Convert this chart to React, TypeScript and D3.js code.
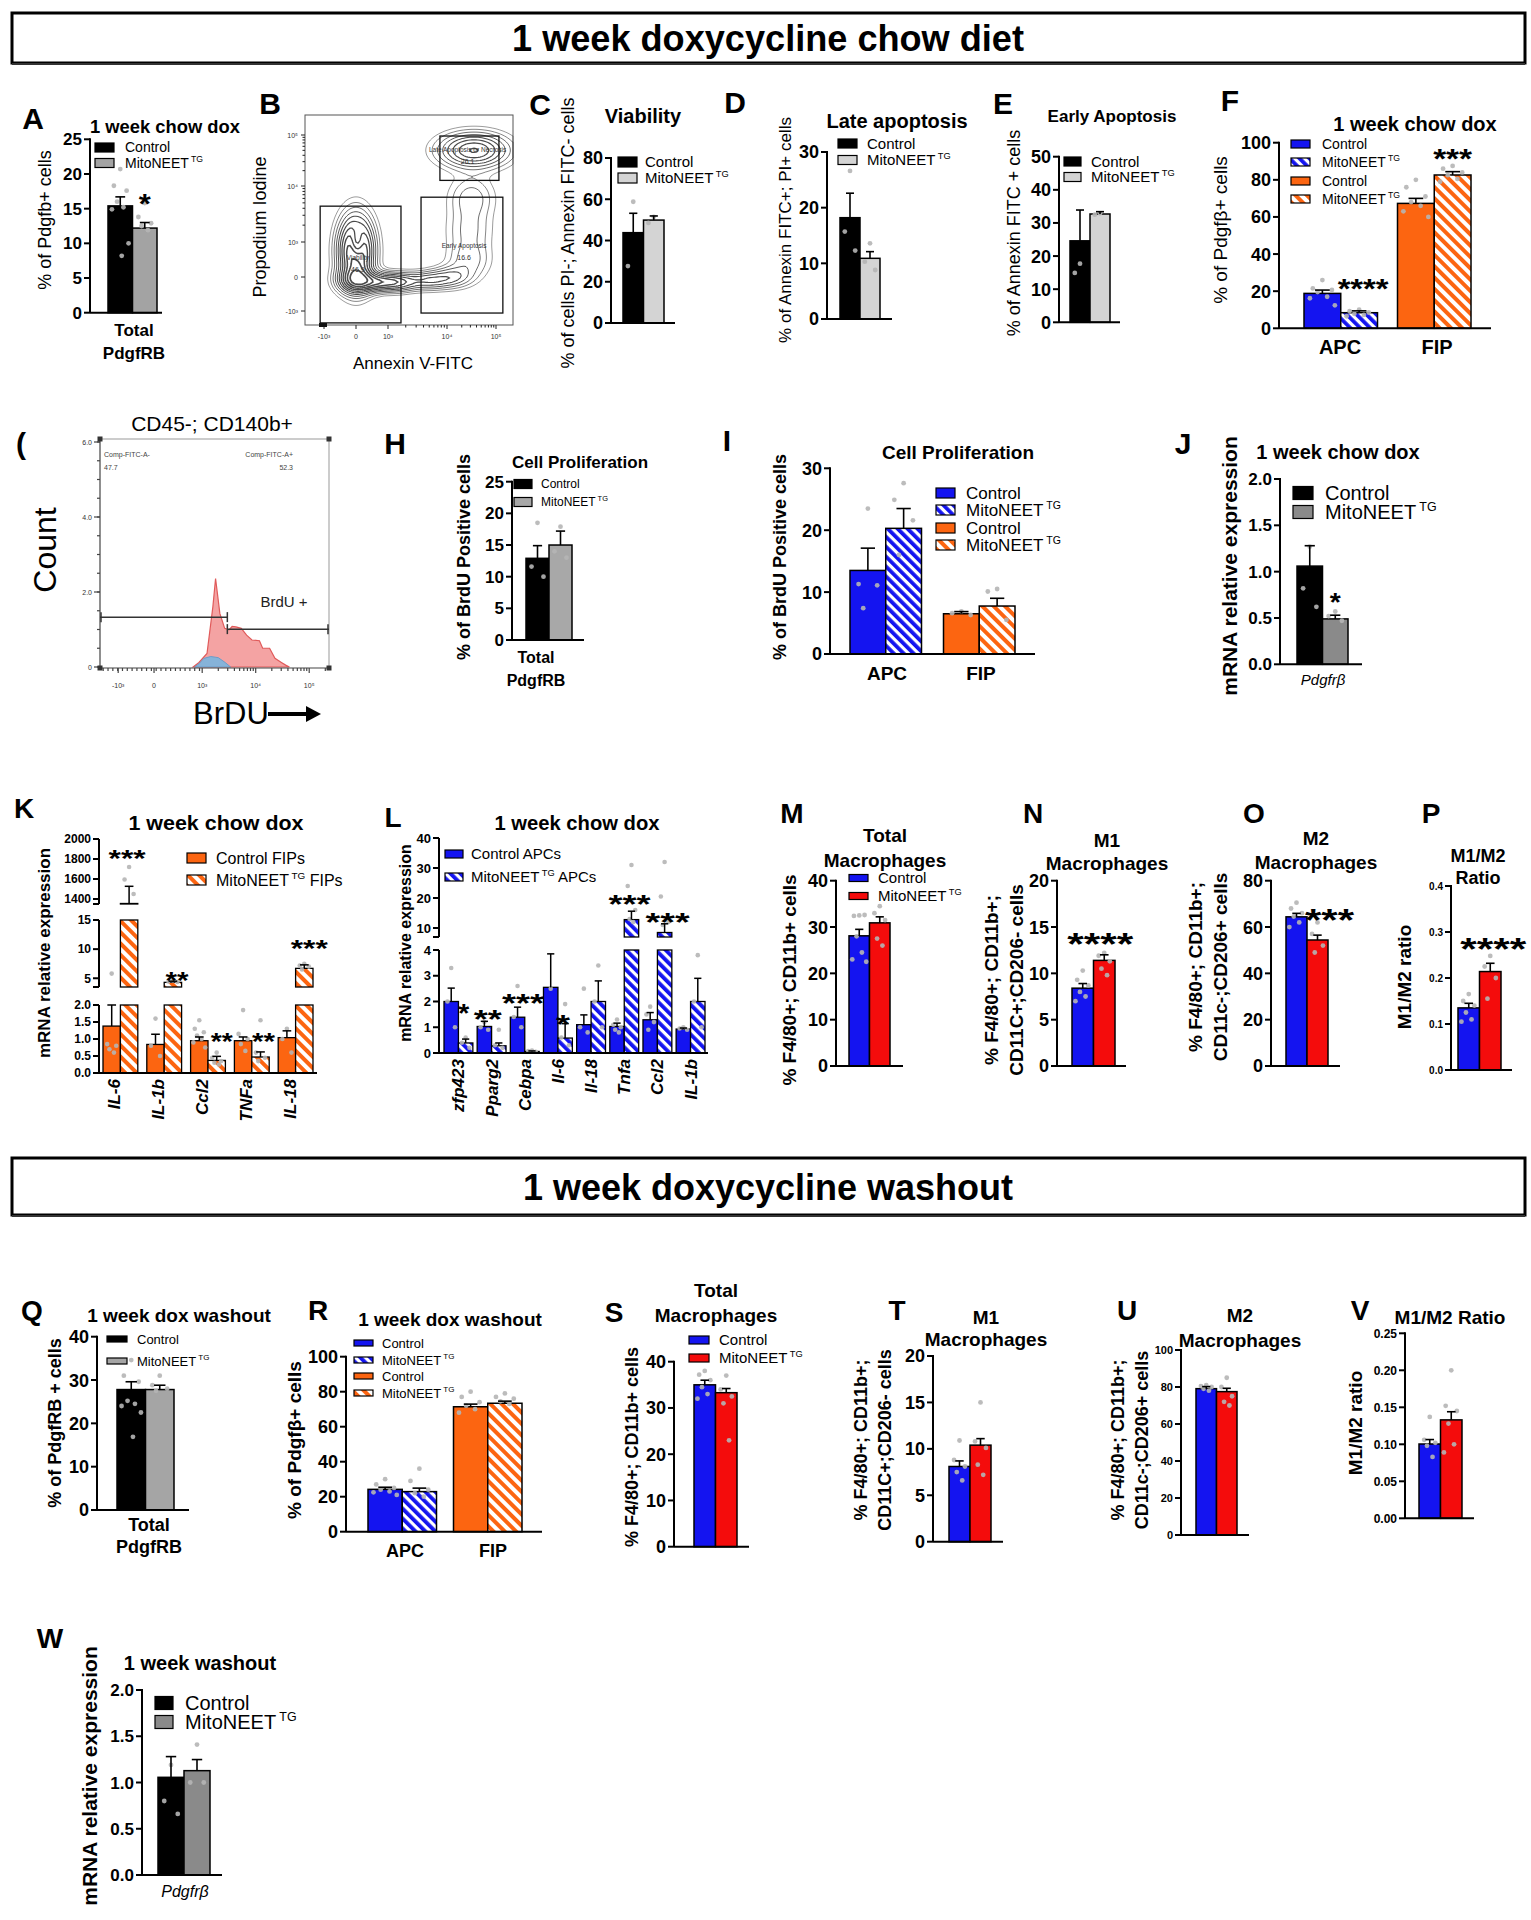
import React from "react";
import * as d3 from "d3";

const FONT = "'Liberation Sans', Arial, Helvetica, sans-serif";
const BLUE = "#1414f0";
const RED = "#f40c0c";
const ORANGE = "#fc6511";
const DOT = "#b5b5b5";
const HB = "url(#hatchBlue)";
const HO = "url(#hatchOrange)";

// ================= DATA =================
const single = ["Total"];
const cellTypes = ["APC", "FIP"];

// A
const A_mean = [15.4, 12.2];
const A_sem = [1.3, 0.8];
const A_dots = [[20.7, 18.3, 17.6, 16.0, 15.2, 14.9, 10.0, 8.2], [15.8, 13.8, 12.9, 12.5, 11.9]];
const A_ticks = [0, 5, 10, 15, 20, 25];
// C
const C_mean = [43.8, 49.9];
const C_sem = [9.4, 2.0];
const C_dots = [[58.8, 27.6], [51.5, 48.5]];
const C_ticks = [0, 20, 40, 60, 80];
// D
const D_mean = [18.2, 10.9];
const D_sem = [4.4, 1.2];
const D_dots = [[26.6, 15.7, 12.3], [13.6, 10.3, 8.8]];
const D_ticks = [0, 10, 20, 30];
// E
const E_mean = [24.6, 32.7];
const E_sem = [9.3, 0.7];
const E_dots = [[17.7, 14.9], [32.9, 32.5]];
const E_ticks = [0, 10, 20, 30, 40, 50];
// F
const F_mean = [[18.8, 8.4], [67.3, 82.6]];
const F_sem = [[1.8, 1.0], [2.7, 1.8]];
const F_dots = [
  [[26, 21.5, 20.7, 19.5, 17, 16.2, 12.4], [10, 9.2, 8.5, 7.8, 7.2, 6.5]],
  [[80, 76, 71, 68, 66, 63, 60], [87.5, 86, 84, 82.5, 80.5, 79]],
];
const F_ticks = [0, 20, 40, 60, 80, 100];
// H
const H_mean = [12.9, 15.0];
const H_sem = [2.0, 2.2];
const H_dots = [[18.5, 11.6, 10.0], [17.9, 14.0, 13.0]];
const H_ticks = [0, 5, 10, 15, 20, 25];
// I
const I_mean = [[13.5, 20.3], [6.5, 7.75]];
const I_sem = [[3.6, 3.2], [0.35, 1.25]];
const I_dots = [
  [[23.5, 11.3, 11.1, 7.4], [27.6, 24.9, 21.6, 16]],
  [[6.9, 6.6, 6.3], [10.5, 10.1, 5.5]],
];
const I_ticks = [0, 10, 20, 30];
// J
const J_mean = [1.06, 0.49];
const J_sem = [0.22, 0.04];
const J_dots = [[1.27, 0.82, 0.62], [0.57, 0.52, 0.47]];
const J_ticks = [0, 0.5, 1, 1.5, 2];
// K
const K_genes = ["IL-6", "IL-1b", "Ccl2", "TNFa", "IL-18"];
const K_ctrl = [1.38, 0.84, 0.95, 0.95, 1.04];
const K_ctrlSem = [0.62, 0.3, 0.11, 0.11, 0.2];
const K_mito = [1355, 4.3, 0.37, 0.47, 6.7];
const K_mitoSem = [172, 0.2, 0.12, 0.15, 0.6];
const K_ctrlDots = [[5.8, 0.85, 0.8, 0.7, 0.6], [1.6, 0.8, 0.5], [1.55, 1.3, 1.2, 1.1, 1.0, 0.9, 0.75], [1.85, 1.15, 1.0, 0.85, 0.65], [1.3, 1.0, 0.6]];
const K_mitoDots = [[1720, 1595, 1450], [4.6, 4.45, 4.35], [0.6, 0.45, 0.35, 0.3, 0.25], [1.55, 0.6, 0.45, 0.35], [7.5, 7.2, 7.0, 6.5]];
// L
const L_genes = ["zfp423", "Pparg2", "Cebpa", "Il-6", "Il-18", "Tnfa", "Ccl2", "IL-1b"];
const L_ctrl = [2.0, 1.03, 1.39, 2.55, 1.1, 1.03, 1.29, 0.93];
const L_ctrlSem = [0.52, 0.2, 0.39, 1.3, 0.38, 0.13, 0.28, 0.04];
const L_mito = [0.39, 0.28, 0.06, 0.58, 2.0, 12.8, 8.5, 2.0];
const L_mitoSem = [0.15, 0.11, 0.02, 0.56, 0.8, 2.8, 2.9, 0.9];
const L_ctrlDots = [[3.3, 2.0, 1.0], [1.2, 1.0, 0.9], [2.6, 1.4, 1.0], [2.5], [2.5, 1.0, 0.8], [1.3, 1.1, 1.0, 0.9, 0.8], [1.8, 1.5, 1.2, 0.9], [1.0, 0.95, 0.9]];
const L_mitoDots = [[0.6, 0.4, 0.2], [0.9, 0.3, 0.2], [0.1, 0.08, 0.05], [1.9, 0.6, 0.3], [3.4, 2.0, 1.0], [31, 24, 16, 13, 12], [32, 20.5, 12, 11], [3.8, 2.0, 1.0]];
// M..P
const M_mean = [28.1, 30.9];
const M_sem = [1.4, 1.3];
const M_dots = [[32.5, 32.4, 32.6, 28, 24.5, 23, 22.5], [34.5, 33, 31.5, 27.5, 26]];
const M_ticks = [0, 10, 20, 30, 40];
const N_mean = [8.4, 11.4];
const N_sem = [0.5, 0.6];
const N_dots = [[10.3, 9.3, 8.7, 8.0, 7.5, 7.0], [12.2, 11.9, 11.3, 10.5, 9.8]];
const N_ticks = [0, 5, 10, 15, 20];
const O_mean = [64.4, 54.4];
const O_sem = [1.5, 2.1];
const O_dots = [[70.5, 68, 66, 64.5, 62, 60], [62, 57, 52, 49]];
const O_ticks = [0, 20, 40, 60, 80];
const P_mean = [0.135, 0.214];
const P_sem = [0.01, 0.018];
const P_dots = [[0.165, 0.15, 0.14, 0.125, 0.11, 0.105], [0.248, 0.225, 0.2, 0.155]];
const P_ticks = [0, 0.1, 0.2, 0.3, 0.4];
// Q..W
const Q_mean = [27.8, 27.8];
const Q_sem = [1.8, 1.0];
const Q_dots = [[34.6, 31, 29.6, 25.2, 24.5, 24, 22.5, 16.9], [31, 28.8, 28, 27.5]];
const Q_ticks = [0, 10, 20, 30, 40];
const R_mean = [[24.2, 22.9], [71.4, 73.4]];
const R_sem = [[1.2, 2.0], [1.5, 1.2]];
const R_dots = [
  [[30, 27, 25, 24, 23, 22.5, 21], [36, 29, 24, 22, 20]],
  [[80, 77, 74, 72, 70, 68], [79, 77, 76, 74.5, 73]],
];
const R_ticks = [0, 20, 40, 60, 80, 100];
const S_mean = [35.0, 33.3];
const S_sem = [1.0, 0.9];
const S_dots = [[38, 37.2, 36, 34.5, 33, 32], [37, 34, 32.5, 31, 23]];
const S_ticks = [0, 10, 20, 30, 40];
const T_mean = [8.1, 10.4];
const T_sem = [0.6, 0.7];
const T_dots = [[10.9, 8.8, 8.1, 7.5, 6.6], [15, 10.8, 10.1, 8.3, 7.2]];
const T_ticks = [0, 5, 10, 15, 20];
const U_mean = [79.1, 77.5];
const U_sem = [1.1, 1.8];
const U_dots = [[81, 80.5, 80, 79, 78], [85, 80, 75, 72, 70]];
const U_ticks = [0, 20, 40, 60, 80, 100];
const V_mean = [0.1004, 0.133];
const V_sem = [0.006, 0.011];
const V_dots = [[0.137, 0.106, 0.102, 0.098, 0.083], [0.2, 0.152, 0.145, 0.128, 0.1, 0.089]];
const V_ticks = [0, 0.05, 0.1, 0.15, 0.2, 0.25];
const W_mean = [1.056, 1.128];
const W_sem = [0.224, 0.12];
const W_dots = [[1.19, 0.8, 0.66], [1.41, 1.0, 1.0]];
const W_ticks = [0, 0.5, 1, 1.5, 2];

// B: flow cytometry (decade units: -1=-10^3, 0=0, 1=10^3, 2=10^4, 3=10^5)
const B_dec = [-1, 0, 1, 2, 3];
const B_tickLbl = ["-10³", "0", "10³", "10⁴", "10⁵"];
const B_gates = [
  { name: "Viability", pct: "46.9", x: [-1.12, 1.22], y: [-1.35, 1.64], lx: 0.06, ly: 0.49 },
  { name: "Early Apoptosis", pct: "16.6", x: [1.56, 3.14], y: [-1.06, 1.8], lx: 2.35, ly: 0.82 },
  { name: "Late Apoptosis or Necrosis", pct: "26.1", x: [1.88, 3.06], y: [2.11, 2.98], lx: 2.42, ly: 2.67 },
];
const B_clusters = [
  { x: 0.0, y: 0.75, sx: 11, sy: 22, w: 1.0 },
  { x: 0.03, y: 0.95, sx: 5, sy: 11, w: -0.5 },
  { x: 0.0, y: -0.1, sx: 12, sy: 8, w: 0.55 },
  { x: 0.7, y: -0.15, sx: 13, sy: 6, w: 0.45 },
  { x: 1.2, y: -0.15, sx: 13, sy: 6, w: 0.38 },
  { x: 1.7, y: -0.1, sx: 13, sy: 6, w: 0.3 },
  { x: 2.1, y: 0.0, sx: 13, sy: 7, w: 0.25 },
  { x: 2.45, y: 0.45, sx: 14, sy: 12, w: 0.16 },
  { x: 2.45, y: 1.2, sx: 15, sy: 16, w: 0.15 },
  { x: 2.5, y: 1.8, sx: 15, sy: 14, w: 0.17 },
  { x: 2.55, y: 2.7, sx: 22, sy: 11, w: 0.55 },
];
const B_levels = [0.05, 0.09, 0.14, 0.2, 0.27, 0.35, 0.44, 0.54, 0.65, 0.77, 0.9];

// G: BrdU histogram (u = display decades)
const G_redU = [2.83, 2.94, 3.09, 3.2, 3.25, 3.33, 3.42, 3.5, 3.56, 3.63, 3.73, 3.83, 3.93, 4.07, 4.13, 4.26, 4.36, 4.48, 4.56, 4.63];
const G_redC = [0, 0.12, 0.36, 1.61, 2.36, 1.43, 1.03, 0.99, 1.08, 1.07, 1.03, 0.85, 0.72, 0.7, 0.5, 0.5, 0.23, 0.12, 0.05, 0];
const G_blueU = [2.86, 2.95, 3.03, 3.16, 3.3, 3.43, 3.53];
const G_blueC = [0, 0.1, 0.23, 0.28, 0.25, 0.12, 0];
const G_xTickU = [1.43, 2.1, 3, 4, 5];
const G_xTickLbl = ["-10³", "0", "10³", "10⁴", "10⁵"];
const G_yTicks = [0, 2, 4, 6];
const G_gateSplit = 3.47;
const G_gateC = [1.33, 1.01];

// ================= HELPERS =================
type TP = { x: number; y: number; fs: number; b?: boolean; i?: boolean; a?: "start" | "middle" | "end"; rot?: boolean; w?: number; fill?: string; children?: React.ReactNode };
function Txt({ x, y, fs, b, i, a = "start", rot, w, fill = "#000", children }: TP) {
  const common: any = { fontSize: fs, fontWeight: b ? 700 : 400, fontStyle: i ? "italic" : "normal", textAnchor: a, fill, fontFamily: FONT };
  if (w) { common.textLength = w; common.lengthAdjust = "spacingAndGlyphs"; }
  if (rot) return <text transform={`translate(${x},${y}) rotate(-90)`} x={0} y={0} dy="0.35em" {...common}>{children}</text>;
  return <text x={x} y={y} {...common}>{children}</text>;
}

type Item = { fill: string; label: string; sup?: string; after?: string };
function Lbl({ it, fs }: { it: Item; fs: number }) {
  return (
    <>
      {it.label}
      {it.sup ? <tspan fontSize={fs * 0.62} dy={-fs * 0.42}>{" " + it.sup}</tspan> : null}
      {it.sup && it.after ? <tspan dy={fs * 0.42}>{it.after}</tspan> : null}
    </>
  );
}
function Legend({ x, ys, sw, sh, fs, tx, items }: { x: number; ys: number[]; sw: number; sh: number; fs: number; tx: number; items: Item[] }) {
  return (
    <g>
      {items.map((it, k) => (
        <g key={k}>
          <rect x={x} y={ys[k] - sh / 2} width={sw} height={sh} fill={it.fill} stroke="#000" strokeWidth={1.2} />
          <Txt x={tx} y={ys[k] + fs * 0.35} fs={fs}><Lbl it={it} fs={fs} /></Txt>
        </g>
      ))}
    </g>
  );
}

const dotPattern = [0, -0.26, 0.26, -0.13, 0.13, -0.34, 0.34, 0.06, -0.06];

type Star = { g: number; s: number; text: string; v: number; fs: number; w: number; dx?: number };
type BarCfg = {
  axisX: number; axisEnd: number; y0: number; yTop: number; max: number;
  ticks: number[]; fmt: string; tickFs: number;
  groups: string[]; means: number[][]; sems: number[][]; dots: number[][][]; fills: string[][];
  bx0: number; bx1: number; gap?: number; dotR?: number; stars?: Star[];
};

function BarPanel({ c }: { c: BarCfg }) {
  const y = d3.scaleLinear().domain([0, c.max]).range([c.y0, c.yTop]);
  const n = c.groups.length;
  const gap = c.gap ?? 0;
  const step = (c.bx1 - c.bx0 + gap) / n;
  const gx = d3.scaleBand<string>().domain(c.groups).range([c.bx0, c.bx1]).paddingInner(n > 1 ? gap / step : 0).paddingOuter(0);
  const ns = c.means[0].length;
  const sx = d3.scaleBand<number>().domain(d3.range(ns)).range([0, gx.bandwidth()]);
  const bw = sx.bandwidth();
  const fmt = d3.format(c.fmt);
  const r = c.dotR ?? 2.4;
  const cx = (g: number, s: number) => (gx(c.groups[g]) as number) + (sx(s) as number) + bw / 2;
  return (
    <g>
      {c.groups.map((gname, g) =>
        c.means[g].map((m, s) => (
          <rect key={`b${g}${s}`} x={cx(g, s) - bw / 2} y={y(m)} width={bw} height={c.y0 - y(m)} fill={c.fills[g][s]} stroke="#000" strokeWidth={1.5} />
        ))
      )}
      {c.groups.map((gname, g) =>
        c.dots[g].map((arr, s) =>
          arr.map((v, k) => <circle key={`d${g}${s}${k}`} cx={cx(g, s) + dotPattern[k % 9] * bw} cy={y(v)} r={r} fill={DOT} opacity={0.9} />)
        )
      )}
      {c.groups.map((gname, g) =>
        c.means[g].map((m, s) => {
          const e = c.sems[g][s];
          const x = cx(g, s);
          return (
            <g key={`e${g}${s}`} stroke="#000" strokeWidth={1.6}>
              <line x1={x} x2={x} y1={y(m)} y2={y(m + e)} />
              <line x1={x - bw * 0.2} x2={x + bw * 0.2} y1={y(m + e)} y2={y(m + e)} />
            </g>
          );
        })
      )}
      <g stroke="#000" strokeWidth={2}>
        <line x1={c.axisX} x2={c.axisX} y1={c.yTop - 1} y2={c.y0} />
        <line x1={c.axisX} x2={c.axisEnd} y1={c.y0} y2={c.y0} />
        {c.ticks.map((t) => <line key={t} x1={c.axisX - 6} x2={c.axisX} y1={y(t)} y2={y(t)} />)}
      </g>
      {c.ticks.map((t) => (
        <Txt key={`t${t}`} x={c.axisX - 8} y={y(t) + c.tickFs * 0.36} fs={c.tickFs} b a="end">{fmt(t)}</Txt>
      ))}
      {(c.stars || []).map((st, k) => (
        <Txt key={`s${k}`} x={cx(st.g, st.s) + (st.dx || 0)} y={y(st.v) + st.fs * 0.56} fs={st.fs} b a="middle" w={st.w}>{st.text}</Txt>
      ))}
    </g>
  );
}

type Seg = { lo: number; hi: number; pLo: number; pHi: number; ticks: number[]; fmt: string };
type BrokenCfg = {
  axisX: number; axisEnd: number; segs: Seg[]; genes: string[];
  ctrl: number[]; ctrlSem: number[]; mito: number[]; mitoSem: number[];
  ctrlDots: number[][]; mitoDots: number[][]; fills: string[];
  bx0: number; bx1: number; gap: number; tickFs: number; labelFs: number; labelDx: number; stars: Star[];
};
function BrokenPanel({ c }: { c: BrokenCfg }) {
  const scales = c.segs.map((s) => d3.scaleLinear().domain([s.lo, s.hi]).range([s.pLo, s.pHi]));
  const segOf = (v: number) => {
    for (let k = 0; k < c.segs.length; k++) if (v >= c.segs[k].lo && v <= c.segs[k].hi) return k;
    return -1;
  };
  const n = c.genes.length;
  const step = (c.bx1 - c.bx0 + c.gap) / n;
  const gx = d3.scaleBand<string>().domain(c.genes).range([c.bx0, c.bx1]).paddingInner(c.gap / step).paddingOuter(0);
  const sx = d3.scaleBand<number>().domain([0, 1]).range([0, gx.bandwidth()]);
  const bw = sx.bandwidth();
  const cx = (g: number, s: number) => (gx(c.genes[g]) as number) + (sx(s) as number) + bw / 2;
  const y0 = c.segs[0].pLo;
  const means = [c.ctrl, c.mito];
  const sems = [c.ctrlSem, c.mitoSem];
  const dots = [c.ctrlDots, c.mitoDots];
  return (
    <g>
      {c.genes.map((gname, g) =>
        [0, 1].map((s) => {
          const m = means[s][g];
          return c.segs.map((sg, k) => {
            if (m <= sg.lo) return null;
            const top = Math.min(m, sg.hi);
            const ys = scales[k];
            return <rect key={`b${g}${s}${k}`} x={cx(g, s) - bw / 2} y={ys(top)} width={bw} height={ys(sg.lo) - ys(top)} fill={c.fills[s]} stroke="#000" strokeWidth={1.3} />;
          });
        })
      )}
      {c.genes.map((gname, g) =>
        [0, 1].map((s) =>
          dots[s][g].map((v, k) => {
            const si = segOf(v);
            if (si < 0) return null;
            return <circle key={`d${g}${s}${k}`} cx={cx(g, s) + dotPattern[k % 9] * bw} cy={scales[si](v)} r={2.3} fill={DOT} opacity={0.9} />;
          })
        )
      )}
      {c.genes.map((gname, g) =>
        [0, 1].map((s) => {
          const m = means[s][g];
          const si = segOf(m);
          if (si < 0) return null;
          const ys = scales[si];
          const top = Math.min(m + sems[s][g], c.segs[si].hi);
          const x = cx(g, s);
          return (
            <g key={`e${g}${s}`} stroke="#000" strokeWidth={1.5}>
              <line x1={x} x2={x} y1={ys(m)} y2={ys(top)} />
              <line x1={x - bw * 0.25} x2={x + bw * 0.25} y1={ys(top)} y2={ys(top)} />
            </g>
          );
        })
      )}
      <g stroke="#000" strokeWidth={2}>
        {c.segs.map((sg, k) => <line key={k} x1={c.axisX} x2={c.axisX} y1={sg.pLo} y2={sg.pHi} />)}
        {c.segs.map((sg, k) => <line key={`m${k}`} x1={c.axisX - 6} x2={c.axisX} y1={sg.pLo} y2={sg.pLo} />)}
        <line x1={c.axisX} x2={c.axisEnd} y1={y0} y2={y0} />
        {c.segs.map((sg, k) => sg.ticks.map((t) => <line key={`t${k}${t}`} x1={c.axisX - 6} x2={c.axisX} y1={scales[k](t)} y2={scales[k](t)} />))}
      </g>
      {c.segs.map((sg, k) =>
        sg.ticks.map((t) => (
          <Txt key={`l${k}${t}`} x={c.axisX - 8} y={scales[k](t) + c.tickFs * 0.36} fs={c.tickFs} b a="end">{d3.format(sg.fmt)(t)}</Txt>
        ))
      )}
      {c.genes.map((gname, g) => (
        <Txt key={`x${g}`} x={(gx(gname) as number) + gx.bandwidth() / 2 + c.labelDx} y={y0 + 6} fs={c.labelFs} b i a="end" rot>{gname}</Txt>
      ))}
      {c.stars.map((st, k) => {
        const si = segOf(st.v);
        return <Txt key={`s${k}`} x={cx(st.g, st.s) + (st.dx || 0)} y={scales[si](st.v) + st.fs * 0.56} fs={st.fs} b a="middle" w={st.w}>{st.text}</Txt>;
      })}
    </g>
  );
}

// ---------- Panel B (contours) ----------
function FlowPanel() {
  const fx0 = 305, fx1 = 513, fy0 = 115, fy1 = 325;
  const xs = d3.scaleLinear().domain(B_dec).range([324, 356, 388, 447, 496]);
  const ys = d3.scaleLinear().domain(B_dec).range([311, 277, 242, 186, 135]);
  const cell = 2;
  const gw = Math.ceil((fx1 - fx0) / cell), gh = Math.ceil((fy1 - fy0) / cell);
  const cl = B_clusters.map((q) => ({ cx: xs(q.x), cy: ys(q.y), sx: q.sx, sy: q.sy, w: q.w }));
  const vals = new Array(gw * gh);
  for (let j = 0; j < gh; j++) {
    for (let i = 0; i < gw; i++) {
      const px = fx0 + i * cell + 1, py = fy0 + j * cell + 1;
      let s = 0;
      for (const q of cl) s += q.w * Math.exp(-(((px - q.cx) ** 2) / (2 * q.sx * q.sx) + ((py - q.cy) ** 2) / (2 * q.sy * q.sy)));
      vals[j * gw + i] = s;
    }
  }
  const contours = d3.contours().size([gw, gh]).thresholds(B_levels)(vals);
  const path = d3.geoPath();
  const minorX: number[] = [];
  [1, 2].forEach((dd) => d3.range(2, 10).forEach((k) => minorX.push(dd + Math.log10(k))));
  return (
    <g>
      <rect x={fx0} y={fy0} width={fx1 - fx0} height={fy1 - fy0} fill="#fff" stroke="#555" strokeWidth={1} />
      <g transform={`translate(${fx0},${fy0}) scale(${cell})`}>
        {contours.map((c, k) => (
          <path key={k} d={path(c as any) || ""} fill="none" stroke="#2a2a2a" strokeWidth={(0.55 + 0.12 * k) / cell} opacity={0.85} />
        ))}
      </g>
      {B_gates.map((g, k) => (
        <g key={k}>
          <rect x={xs(g.x[0])} y={ys(g.y[1])} width={xs(g.x[1]) - xs(g.x[0])} height={ys(g.y[0]) - ys(g.y[1])} fill="none" stroke="#111" strokeWidth={1.3} />
          <Txt x={xs(g.lx)} y={ys(g.ly)} fs={6.5} a="middle" fill="#333">{g.name}</Txt>
          <Txt x={xs(g.lx)} y={ys(g.ly) + 12} fs={7} a="middle" fill="#333">{g.pct}</Txt>
        </g>
      ))}
      <g stroke="#222" strokeWidth={1}>
        {B_dec.map((d, k) => <line key={`yx${k}`} x1={fx0 - 4} x2={fx0} y1={ys(d)} y2={ys(d)} />)}
        {B_dec.map((d, k) => <line key={`xx${k}`} x1={xs(d)} x2={xs(d)} y1={fy1} y2={fy1 + 4} />)}
        {minorX.map((d, k) => <line key={`mx${k}`} x1={xs(d)} x2={xs(d)} y1={fy1} y2={fy1 + 2.5} />)}
        {minorX.map((d, k) => <line key={`my${k}`} x1={fx0 - 2.5} x2={fx0} y1={ys(d)} y2={ys(d)} />)}
      </g>
      {B_dec.map((d, k) => <Txt key={`yl${k}`} x={fx0 - 7} y={ys(d) + 2.5} fs={7} a="end" fill="#333">{B_tickLbl[k]}</Txt>)}
      {B_dec.map((d, k) => <Txt key={`xl${k}`} x={xs(d)} y={fy1 + 14} fs={7} a="middle" fill="#333">{B_tickLbl[k]}</Txt>)}
      <rect x={fx0 + 14} y={fy1 - 2} width={8} height={4} fill="#111" />
      <Txt x={260} y={227} fs={18} a="middle" rot>Propodium Iodine</Txt>
      <Txt x={413} y={369} fs={17} a="middle">Annexin V-FITC</Txt>
    </g>
  );
}

// ---------- Panel G (histogram) ----------
function HistPanel() {
  const fx0 = 100, fx1 = 329, fy0 = 439, fy1 = 668;
  const x = d3.scaleLinear().domain([1.09, 5.37]).range([fx0, fx1]);
  const y = d3.scaleLinear().domain([0, 6]).range([667, 442]);
  const area = d3.area<[number, number]>().x((d) => x(d[0])).y0(y(0)).y1((d) => y(d[1]));
  const red: [number, number][] = G_redU.map((u, k) => [u, G_redC[k]]);
  const blue: [number, number][] = G_blueU.map((u, k) => [u, G_blueC[k]]);
  const minor: number[] = [];
  d3.range(1.15, 2.95, 0.09).forEach((u) => minor.push(u));
  [3, 4, 5].forEach((dd) => d3.range(2, 10).forEach((k) => { const u = dd + Math.log10(k); if (u < 5.37) minor.push(u); }));
  const yMinor = d3.range(0, 6.01, 0.5);
  const xs = x(G_gateSplit);
  return (
    <g>
      <line x1={fx0} x2={fx1} y1={fy0} y2={fy0} stroke="#999" strokeWidth={1} />
      <line x1={fx1} x2={fx1} y1={fy0} y2={fy1} stroke="#999" strokeWidth={1} />
      <path d={area(red) || ""} fill="#f4a3a3" stroke="#e05a5a" strokeWidth={1.2} />
      <path d={area(blue) || ""} fill="#86b3d9" stroke="#6d9cc8" strokeWidth={1} />
      <g stroke="#444" strokeWidth={1.2}>
        <line x1={fx0} x2={fx0} y1={fy0} y2={fy1} />
        <line x1={fx0} x2={fx1} y1={fy1} y2={fy1} />
        {minor.map((u, k) => <line key={`m${k}`} x1={x(u)} x2={x(u)} y1={fy1} y2={fy1 + 3} />)}
        {G_xTickU.map((u, k) => <line key={`M${k}`} x1={x(u)} x2={x(u)} y1={fy1} y2={fy1 + 5} />)}
        {yMinor.map((c, k) => <line key={`y${k}`} x1={fx0 - 3} x2={fx0} y1={y(c)} y2={y(c)} />)}
        {G_yTicks.map((c, k) => <line key={`Y${k}`} x1={fx0 - 6} x2={fx0} y1={y(c)} y2={y(c)} />)}
      </g>
      {[[fx0, fy0], [fx1, fy0], [fx0, fy1], [fx1, fy1]].map((p, k) => <rect key={k} x={p[0] - 2.5} y={p[1] - 2.5} width={5} height={5} fill="#333" />)}
      {G_yTicks.map((c, k) => <Txt key={`yl${k}`} x={fx0 - 8} y={y(c) + 2.5} fs={7} a="end" fill="#333">{c === 0 ? "0" : d3.format(".1f")(c)}</Txt>)}
      {G_xTickU.map((u, k) => <Txt key={`xl${k}`} x={x(u)} y={688} fs={7} a="middle" fill="#333">{G_xTickLbl[k]}</Txt>)}
      <g stroke="#333" strokeWidth={1.5}>
        <line x1={fx0} x2={xs} y1={y(G_gateC[0])} y2={y(G_gateC[0])} />
        <line x1={xs} x2={xs} y1={y(G_gateC[0]) - 5} y2={y(G_gateC[0]) + 5} />
        <line x1={fx0 + 1} x2={fx0 + 1} y1={y(G_gateC[0]) - 5} y2={y(G_gateC[0]) + 5} />
        <line x1={xs} x2={fx1} y1={y(G_gateC[1])} y2={y(G_gateC[1])} />
        <line x1={xs} x2={xs} y1={y(G_gateC[1]) - 5} y2={y(G_gateC[1]) + 5} />
        <line x1={fx1 - 1} x2={fx1 - 1} y1={y(G_gateC[1]) - 5} y2={y(G_gateC[1]) + 5} />
      </g>
      <Txt x={104} y={457} fs={7} fill="#444">Comp-FITC-A-</Txt>
      <Txt x={104} y={470} fs={7} fill="#444">47.7</Txt>
      <Txt x={293} y={457} fs={7} a="end" fill="#444">Comp-FITC-A+</Txt>
      <Txt x={293} y={470} fs={7} a="end" fill="#444">52.3</Txt>
      <Txt x={284} y={607} fs={15} a="middle" fill="#222">BrdU +</Txt>
      <Txt x={212} y={431} fs={21} a="middle">CD45-; CD140b+</Txt>
      <Txt x={45} y={550} fs={32} a="middle" rot>Count</Txt>
      <Txt x={193} y={724} fs={31}>BrDU</Txt>
      <line x1={268} x2={308} y1={714} y2={714} stroke="#000" strokeWidth={4} />
      <path d="M306,706 L321,714 L306,722 Z" fill="#000" />
    </g>
  );
}

const two = (a: string, b: string) => [[a, b]];
const blk = (g: string) => two("#000", g);

export default function App() {
  const legTwo = (gray: string): Item[] => [
    { fill: "#000", label: "Control" },
    { fill: gray, label: "MitoNEET", sup: "TG" },
  ];
  const legFour: Item[] = [
    { fill: BLUE, label: "Control" },
    { fill: HB, label: "MitoNEET", sup: "TG" },
    { fill: ORANGE, label: "Control" },
    { fill: HO, label: "MitoNEET", sup: "TG" },
  ];
  const legBR: Item[] = [
    { fill: BLUE, label: "Control" },
    { fill: RED, label: "MitoNEET", sup: "TG" },
  ];
  const letters: [string, number, number, number][] = [
    ["A", 33, 129, 30], ["B", 270, 114, 30], ["C", 540, 115, 30], ["D", 735, 113, 30], ["E", 1003, 114, 30], ["F", 1230, 111, 30],
    ["(", 21, 454, 30], ["H", 395, 454, 30], ["I", 727, 451, 30], ["J", 1183, 454, 30],
    ["K", 24, 818, 28], ["L", 393, 827, 28], ["M", 792, 823, 28], ["N", 1033, 823, 28], ["O", 1254, 823, 28], ["P", 1431, 823, 28],
    ["Q", 32, 1320, 28], ["R", 318, 1320, 28], ["S", 614, 1322, 28], ["T", 897, 1320, 28], ["U", 1127, 1320, 28], ["V", 1360, 1320, 28],
    ["W", 50, 1648, 28],
  ];
  return (
    <div style={{ position: "absolute", left: 0, top: 0 }}>
      <svg width={1531} height={1920} viewBox="0 0 1531 1920" style={{ display: "block", background: "#fff" }}>
        <defs>
          <pattern id="hatchBlue" patternUnits="userSpaceOnUse" width={7} height={7} patternTransform="rotate(-45)">
            <rect width={7} height={7} fill="#fff" />
            <rect width={3.8} height={7} fill={BLUE} />
          </pattern>
          <pattern id="hatchOrange" patternUnits="userSpaceOnUse" width={8} height={8} patternTransform="rotate(-45)">
            <rect width={8} height={8} fill="#fff" />
            <rect width={4} height={8} fill={ORANGE} />
          </pattern>
        </defs>
        <rect x={0} y={0} width={1531} height={1920} fill="#fff" />

        {/* headers */}
        <rect x={12} y={13} width={1513} height={50} fill="#fff" stroke="#000" strokeWidth={3} />
        <line x1={12} x2={1525} y1={64} y2={64} stroke="#333" strokeWidth={2} />
        <Txt x={768} y={51} fs={36} b a="middle" w={512}>1 week doxycycline chow diet</Txt>
        <rect x={12} y={1158} width={1513} height={57} fill="#fff" stroke="#000" strokeWidth={3} />
        <line x1={12} x2={1525} y1={1216} y2={1216} stroke="#333" strokeWidth={2} />
        <Txt x={768} y={1200} fs={36} b a="middle" w={490}>1 week doxycycline washout</Txt>

        {letters.map(([t, x, y, fs]) => <Txt key={t + x} x={x} y={y} fs={fs} b a="middle">{t}</Txt>)}

        {/* ---------- A ---------- */}
        <BarPanel c={{ axisX: 90, axisEnd: 162, y0: 312.7, yTop: 139.3, max: 25, ticks: A_ticks, fmt: "d", tickFs: 17, groups: single, means: [A_mean], sems: [A_sem], dots: [A_dots], fills: blk("#a3a3a3"), bx0: 108, bx1: 157, stars: [{ g: 0, s: 1, text: "*", v: 16.7, fs: 28, w: 12 }] }} />
        <Txt x={165} y={133} fs={19} b a="middle" w={150}>1 week chow dox</Txt>
        <Legend x={95} ys={[147.5, 163]} sw={19} sh={9} fs={14} tx={125} items={legTwo("#a3a3a3")} />
        <Txt x={45} y={220} fs={18} a="middle" rot>% of Pdgfb+ cells</Txt>
        <Txt x={134} y={336} fs={17} b a="middle">Total</Txt>
        <Txt x={134} y={359} fs={17} b a="middle">PdgfRB</Txt>

        {/* ---------- B ---------- */}
        <FlowPanel />

        {/* ---------- C ---------- */}
        <BarPanel c={{ axisX: 611, axisEnd: 675, y0: 323, yTop: 158, max: 80, ticks: C_ticks, fmt: "d", tickFs: 18, groups: single, means: [C_mean], sems: [C_sem], dots: [C_dots], fills: blk("#d4d4d4"), bx0: 623, bx1: 664 }} />
        <Txt x={643} y={123} fs={20} b a="middle">Viability</Txt>
        <Legend x={618} ys={[162, 178]} sw={19} sh={10} fs={15} tx={645} items={legTwo("#d4d4d4")} />
        <Txt x={568} y={233} fs={18} a="middle" rot>% of cells PI-; Annexin FITC- cells</Txt>

        {/* ---------- D ---------- */}
        <BarPanel c={{ axisX: 827, axisEnd: 892, y0: 319, yTop: 152, max: 30, ticks: D_ticks, fmt: "d", tickFs: 18, groups: single, means: [D_mean], sems: [D_sem], dots: [D_dots], fills: blk("#d4d4d4"), bx0: 840, bx1: 880 }} />
        <Txt x={897} y={128} fs={20} b a="middle">Late apoptosis</Txt>
        <Legend x={838} ys={[143.5, 160]} sw={19} sh={9} fs={15} tx={867} items={legTwo("#d4d4d4")} />
        <Txt x={785} y={230} fs={17} a="middle" rot>% of Annexin FITC+; PI+ cells</Txt>

        {/* ---------- E ---------- */}
        <BarPanel c={{ axisX: 1059, axisEnd: 1120, y0: 322.3, yTop: 156.7, max: 50, ticks: E_ticks, fmt: "d", tickFs: 18, groups: single, means: [E_mean], sems: [E_sem], dots: [E_dots], fills: blk("#d4d4d4"), bx0: 1070, bx1: 1110 }} />
        <Txt x={1112} y={122} fs={17} b a="middle">Early Apoptosis</Txt>
        <Legend x={1064} ys={[161.5, 177]} sw={17} sh={9} fs={15} tx={1091} items={legTwo("#d4d4d4")} />
        <Txt x={1014} y={233} fs={18} a="middle" rot>% of Annexin FITC + cells</Txt>

        {/* ---------- F ---------- */}
        <BarPanel c={{ axisX: 1279, axisEnd: 1491, y0: 328.3, yTop: 142.7, max: 100, ticks: F_ticks, fmt: "d", tickFs: 18, groups: cellTypes, means: F_mean, sems: F_sem, dots: F_dots, fills: [[BLUE, HB], [ORANGE, HO]], bx0: 1304, bx1: 1471, gap: 20, stars: [{ g: 0, s: 1, text: "****", v: 24.6, fs: 28, w: 51, dx: 4 }, { g: 1, s: 1, text: "***", v: 95, fs: 28, w: 39 }] }} />
        <Txt x={1415} y={131} fs={20} b a="middle">1 week chow dox</Txt>
        <Legend x={1291} ys={[144, 162, 181, 199]} sw={19} sh={8} fs={14} tx={1322} items={legFour} />
        <Txt x={1220} y={230} fs={19} a="middle" rot>% of Pdgfβ+ cells</Txt>
        <Txt x={1340} y={354} fs={20} b a="middle">APC</Txt>
        <Txt x={1437} y={354} fs={20} b a="middle">FIP</Txt>

        {/* ---------- G ---------- */}
        <HistPanel />

        {/* ---------- H ---------- */}
        <BarPanel c={{ axisX: 512, axisEnd: 584, y0: 640, yTop: 481.7, max: 25, ticks: H_ticks, fmt: "d", tickFs: 17, groups: single, means: [H_mean], sems: [H_sem], dots: [H_dots], fills: blk("#a8a8a8"), bx0: 526, bx1: 572 }} />
        <Txt x={580} y={468} fs={17} b a="middle">Cell Proliferation</Txt>
        <Legend x={514} ys={[484, 502]} sw={18} sh={9} fs={12} tx={541} items={legTwo("#a8a8a8")} />
        <Txt x={464} y={557} fs={18} b a="middle" rot>% of BrdU Positive cells</Txt>
        <Txt x={536} y={663} fs={16} b a="middle">Total</Txt>
        <Txt x={536} y={686} fs={16} b a="middle">PdgfRB</Txt>

        {/* ---------- I ---------- */}
        <BarPanel c={{ axisX: 830, axisEnd: 1035, y0: 654, yTop: 468.3, max: 30, ticks: I_ticks, fmt: "d", tickFs: 18, groups: cellTypes, means: I_mean, sems: I_sem, dots: I_dots, fills: [[BLUE, HB], [ORANGE, HO]], bx0: 850, bx1: 1015, gap: 22 }} />
        <Txt x={958} y={459} fs={19} b a="middle">Cell  Proliferation</Txt>
        <Legend x={936} ys={[493, 510, 528, 545]} sw={19} sh={10} fs={17} tx={966} items={legFour} />
        <Txt x={780} y={557} fs={18} b a="middle" rot>% of BrdU Positive cells</Txt>
        <Txt x={887} y={680} fs={19} b a="middle">APC</Txt>
        <Txt x={981} y={680} fs={19} b a="middle">FIP</Txt>

        {/* ---------- J ---------- */}
        <BarPanel c={{ axisX: 1280, axisEnd: 1362, y0: 664.3, yTop: 479, max: 2, ticks: J_ticks, fmt: ".1f", tickFs: 17, groups: single, means: [J_mean], sems: [J_sem], dots: [J_dots], fills: blk("#8a8a8a"), bx0: 1297, bx1: 1348, stars: [{ g: 0, s: 1, text: "*", v: 0.73, fs: 26, w: 11 }] }} />
        <Txt x={1338} y={459} fs={20} b a="middle">1 week chow dox</Txt>
        <Legend x={1293} ys={[493, 512]} sw={20} sh={13} fs={20} tx={1325} items={legTwo("#8a8a8a")} />
        <Txt x={1230} y={566} fs={21} b a="middle" rot>mRNA relative expression</Txt>
        <Txt x={1323} y={685} fs={15} i a="middle">Pdgfrβ</Txt>

        {/* ---------- K ---------- */}
        <BrokenPanel c={{
          axisX: 99, axisEnd: 317, genes: K_genes,
          segs: [
            { lo: 0, hi: 2, pLo: 1073, pHi: 1005, ticks: [0, 0.5, 1, 1.5, 2], fmt: ".1f" },
            { lo: 3.5, hi: 15, pLo: 987, pHi: 920, ticks: [5, 10, 15], fmt: "d" },
            { lo: 1350, hi: 2000, pLo: 904, pHi: 839, ticks: [1400, 1600, 1800, 2000], fmt: "d" },
          ],
          ctrl: K_ctrl, ctrlSem: K_ctrlSem, mito: K_mito, mitoSem: K_mitoSem, ctrlDots: K_ctrlDots, mitoDots: K_mitoDots,
          fills: [ORANGE, HO], bx0: 103, bx1: 313, gap: 9, tickFs: 12, labelFs: 17, labelDx: -6,
          stars: [
            { g: 0, s: 1, text: "***", v: 1850, fs: 24, w: 37, dx: -2 },
            { g: 1, s: 1, text: "**", v: 5.5, fs: 24, w: 23, dx: 4 },
            { g: 2, s: 1, text: "**", v: 1.06, fs: 24, w: 22, dx: 5 },
            { g: 3, s: 1, text: "**", v: 1.06, fs: 24, w: 23, dx: 3 },
            { g: 4, s: 1, text: "***", v: 10.9, fs: 24, w: 37, dx: 5 },
          ],
        }} />
        <Txt x={216} y={830} fs={21} b a="middle" w={175}>1 week chow dox</Txt>
        <Legend x={187} ys={[858, 880]} sw={19} sh={10} fs={16} tx={216} items={[{ fill: ORANGE, label: "Control FIPs" }, { fill: HO, label: "MitoNEET", sup: "TG", after: " FIPs" }]} />
        <Txt x={44} y={953} fs={17} b a="middle" rot>mRNA relative expression</Txt>

        {/* ---------- L ---------- */}
        <BrokenPanel c={{
          axisX: 439, axisEnd: 708, genes: L_genes,
          segs: [
            { lo: 0, hi: 4, pLo: 1053, pHi: 950, ticks: [0, 1, 2, 3, 4], fmt: "d" },
            { lo: 7, hi: 40, pLo: 937, pHi: 838, ticks: [10, 20, 30, 40], fmt: "d" },
          ],
          ctrl: L_ctrl, ctrlSem: L_ctrlSem, mito: L_mito, mitoSem: L_mitoSem, ctrlDots: L_ctrlDots, mitoDots: L_mitoDots,
          fills: [BLUE, HB], bx0: 444, bx1: 705, gap: 4.3, tickFs: 13, labelFs: 17, labelDx: 0,
          stars: [
            { g: 0, s: 1, text: "*", v: 1.75, fs: 26, w: 11, dx: -2 },
            { g: 1, s: 1, text: "**", v: 1.55, fs: 26, w: 28, dx: -11 },
            { g: 2, s: 1, text: "***", v: 2.14, fs: 26, w: 42, dx: -9 },
            { g: 3, s: 1, text: "*", v: 1.36, fs: 26, w: 14, dx: -2 },
            { g: 5, s: 1, text: "***", v: 20, fs: 26, w: 42, dx: -2 },
            { g: 6, s: 1, text: "***", v: 13.7, fs: 26, w: 44, dx: 3 },
          ],
        }} />
        <Txt x={577} y={830} fs={20} b a="middle" w={165}>1 week chow dox</Txt>
        <Legend x={445} ys={[854, 877]} sw={18} sh={8} fs={15} tx={471} items={[{ fill: BLUE, label: "Control  APCs" }, { fill: HB, label: "MitoNEET", sup: "TG", after: " APCs" }]} />
        <Txt x={405} y={943} fs={16} b a="middle" rot>mRNA relative expression</Txt>

        {/* ---------- M ---------- */}
        <BarPanel c={{ axisX: 836, axisEnd: 903, y0: 1066, yTop: 880.7, max: 40, ticks: M_ticks, fmt: "d", tickFs: 18, groups: single, means: [M_mean], sems: [M_sem], dots: [M_dots], fills: two(BLUE, RED), bx0: 849, bx1: 890 }} />
        <Txt x={885} y={842} fs={19} b a="middle">Total</Txt>
        <Txt x={885} y={867} fs={19} b a="middle">Macrophages</Txt>
        <Legend x={849} ys={[878, 896]} sw={19} sh={7} fs={15} tx={878} items={legBR} />
        <Txt x={789} y={980} fs={19} b a="middle" rot>% F4/80+; CD11b+  cells</Txt>

        {/* ---------- N ---------- */}
        <BarPanel c={{ axisX: 1057, axisEnd: 1126, y0: 1066, yTop: 880.7, max: 20, ticks: N_ticks, fmt: "d", tickFs: 18, groups: single, means: [N_mean], sems: [N_sem], dots: [N_dots], fills: two(BLUE, RED), bx0: 1072, bx1: 1115, stars: [{ g: 0, s: 1, text: "****", v: 13.9, fs: 32, w: 66, dx: -4 }] }} />
        <Txt x={1107} y={847} fs={19} b a="middle">M1</Txt>
        <Txt x={1107} y={870} fs={19} b a="middle">Macrophages</Txt>
        <Txt x={991} y={980} fs={19} b a="middle" rot>% F4/80+; CD11b+;</Txt>
        <Txt x={1016} y={980} fs={19} b a="middle" rot>CD11C+;CD206- cells</Txt>

        {/* ---------- O ---------- */}
        <BarPanel c={{ axisX: 1271, axisEnd: 1340, y0: 1066, yTop: 880.7, max: 80, ticks: O_ticks, fmt: "d", tickFs: 18, groups: single, means: [O_mean], sems: [O_sem], dots: [O_dots], fills: two(BLUE, RED), bx0: 1286, bx1: 1328, stars: [{ g: 0, s: 1, text: "***", v: 66, fs: 32, w: 49, dx: 12 }] }} />
        <Txt x={1316} y={845} fs={19} b a="middle">M2</Txt>
        <Txt x={1316} y={869} fs={19} b a="middle">Macrophages</Txt>
        <Txt x={1195} y={967} fs={19} b a="middle" rot>% F4/80+; CD11b+;</Txt>
        <Txt x={1220} y={967} fs={19} b a="middle" rot>CD11c-;CD206+ cells</Txt>

        {/* ---------- P ---------- */}
        <BarPanel c={{ axisX: 1451, axisEnd: 1512, y0: 1070, yTop: 886, max: 0.4, ticks: P_ticks, fmt: ".1f", tickFs: 10, groups: single, means: [P_mean], sems: [P_sem], dots: [P_dots], fills: two(BLUE, RED), bx0: 1458, bx1: 1501, stars: [{ g: 0, s: 1, text: "****", v: 0.278, fs: 32, w: 66, dx: 3 }] }} />
        <Txt x={1478} y={862} fs={18} b a="middle">M1/M2</Txt>
        <Txt x={1478} y={884} fs={18} b a="middle">Ratio</Txt>
        <Txt x={1404} y={977} fs={19} b a="middle" rot>M1/M2  ratio</Txt>

        {/* ---------- Q ---------- */}
        <BarPanel c={{ axisX: 97, axisEnd: 189, y0: 1510, yTop: 1336.7, max: 40, ticks: Q_ticks, fmt: "d", tickFs: 18, groups: single, means: [Q_mean], sems: [Q_sem], dots: [Q_dots], fills: blk("#a5a5a5"), bx0: 117, bx1: 174 }} />
        <Txt x={179} y={1322} fs={19} b a="middle">1 week dox washout</Txt>
        <Legend x={107} ys={[1339, 1361]} sw={20} sh={6} fs={13} tx={137} items={legTwo("#a5a5a5")} />
        <Txt x={55} y={1423} fs={18} b a="middle" rot>% of PdgfRB + cells</Txt>
        <Txt x={149} y={1531} fs={18} b a="middle">Total</Txt>
        <Txt x={149} y={1553} fs={18} b a="middle">PdgfRB</Txt>

        {/* ---------- R ---------- */}
        <BarPanel c={{ axisX: 346, axisEnd: 542, y0: 1531.7, yTop: 1356.7, max: 100, ticks: R_ticks, fmt: "d", tickFs: 18, groups: cellTypes, means: R_mean, sems: R_sem, dots: R_dots, fills: [[BLUE, HB], [ORANGE, HO]], bx0: 368, bx1: 522, gap: 17 }} />
        <Txt x={450} y={1326} fs={19} b a="middle">1 week dox washout</Txt>
        <Legend x={354} ys={[1343, 1360, 1376, 1393]} sw={19} sh={6} fs={13} tx={382} items={legFour} />
        <Txt x={294} y={1440} fs={19} b a="middle" rot>% of Pdgfβ+ cells</Txt>
        <Txt x={405} y={1557} fs={18} b a="middle">APC</Txt>
        <Txt x={493} y={1557} fs={18} b a="middle">FIP</Txt>

        {/* ---------- S ---------- */}
        <BarPanel c={{ axisX: 674, axisEnd: 749, y0: 1546.7, yTop: 1361.7, max: 40, ticks: S_ticks, fmt: "d", tickFs: 18, groups: single, means: [S_mean], sems: [S_sem], dots: [S_dots], fills: two(BLUE, RED), bx0: 694, bx1: 737 }} />
        <Txt x={716} y={1297} fs={19} b a="middle">Total</Txt>
        <Txt x={716} y={1322} fs={19} b a="middle">Macrophages</Txt>
        <Legend x={689} ys={[1340, 1358]} sw={20} sh={8} fs={15} tx={719} items={legBR} />
        <Txt x={632} y={1447} fs={18} b a="middle" rot>% F4/80+; CD11b+  cells</Txt>

        {/* ---------- T ---------- */}
        <BarPanel c={{ axisX: 933, axisEnd: 1003, y0: 1541.7, yTop: 1356, max: 20, ticks: T_ticks, fmt: "d", tickFs: 18, groups: single, means: [T_mean], sems: [T_sem], dots: [T_dots], fills: two(BLUE, RED), bx0: 949, bx1: 991 }} />
        <Txt x={986} y={1324} fs={19} b a="middle">M1</Txt>
        <Txt x={986} y={1346} fs={19} b a="middle">Macrophages</Txt>
        <Txt x={861} y={1440} fs={18} b a="middle" rot>% F4/80+; CD11b+;</Txt>
        <Txt x={885} y={1440} fs={18} b a="middle" rot>CD11C+;CD206- cells</Txt>

        {/* ---------- U ---------- */}
        <BarPanel c={{ axisX: 1181, axisEnd: 1249, y0: 1535, yTop: 1350, max: 100, ticks: U_ticks, fmt: "d", tickFs: 11, groups: single, means: [U_mean], sems: [U_sem], dots: [U_dots], fills: two(BLUE, RED), bx0: 1196, bx1: 1237 }} />
        <Txt x={1240} y={1322} fs={19} b a="middle">M2</Txt>
        <Txt x={1240} y={1347} fs={19} b a="middle">Macrophages</Txt>
        <Txt x={1118} y={1440} fs={18} b a="middle" rot>% F4/80+; CD11b+;</Txt>
        <Txt x={1142} y={1440} fs={18} b a="middle" rot>CD11c-;CD206+ cells</Txt>

        {/* ---------- V ---------- */}
        <BarPanel c={{ axisX: 1405, axisEnd: 1474, y0: 1518.3, yTop: 1333.3, max: 0.25, ticks: V_ticks, fmt: ".2f", tickFs: 12, groups: single, means: [V_mean], sems: [V_sem], dots: [V_dots], fills: two(BLUE, RED), bx0: 1419, bx1: 1462 }} />
        <Txt x={1450} y={1324} fs={19} b a="middle">M1/M2 Ratio</Txt>
        <Txt x={1355} y={1423} fs={19} b a="middle" rot>M1/M2  ratio</Txt>

        {/* ---------- W ---------- */}
        <BarPanel c={{ axisX: 142, axisEnd: 222, y0: 1875, yTop: 1690, max: 2, ticks: W_ticks, fmt: ".1f", tickFs: 17, groups: single, means: [W_mean], sems: [W_sem], dots: [W_dots], fills: blk("#8a8a8a"), bx0: 158, bx1: 210 }} />
        <Txt x={200} y={1670} fs={20} b a="middle">1 week washout</Txt>
        <Legend x={155} ys={[1703, 1722]} sw={18} sh={13} fs={20} tx={185} items={legTwo("#8a8a8a")} />
        <Txt x={90} y={1776} fs={21} b a="middle" rot>mRNA relative expression</Txt>
        <Txt x={185} y={1897} fs={16} i a="middle">Pdgfrβ</Txt>
      </svg>
    </div>
  );
}
